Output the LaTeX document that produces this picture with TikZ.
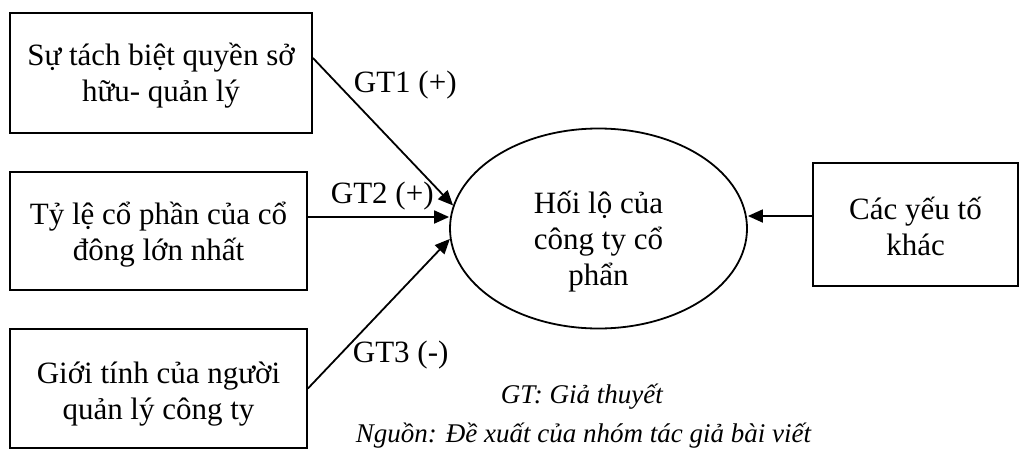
\documentclass[tikz,border=0pt]{standalone}
\usepackage{fontspec}
\setmainfont{Liberation Serif}
\usetikzlibrary{arrows.meta,shapes.geometric}
\newcommand\diafont{\fontsize{31}{36}\selectfont}
\newcommand\notefont{\fontsize{27}{31}\selectfont\itshape}
% multi-line centred text; last baseline lowered #1 below the node centre
\newcommand\ml[2]{\raisebox{-#1}[0pt][0pt]{\vbox{\lineskiplimit=-100pt\baselineskip=36pt\halign{\hfil##\hfil\cr#2\crcr}}}}
\begin{document}
\begin{tikzpicture}[x=1pt,y=-1pt,line width=1.8pt,
  box/.style={draw, rectangle, inner sep=0pt, font=\diafont},
  oval/.style={draw, ellipse, inner sep=0pt, font=\diafont,
    minimum width=297pt, minimum height=200pt},
  lbl/.style={anchor=base west, inner sep=0pt, font=\diafont},
  note/.style={anchor=base west, inner sep=0pt, font=\notefont},
  link/.style={-{Triangle[length=15pt,width=13pt]}}
]
\useasboundingbox (0,0) rectangle (1019,450);

\node[box, minimum width=302pt, minimum height=120pt] (b1) at (161,73)
  {\ml{28pt}{Sự tách biệt quyền sở\cr hữu- quản lý}};
\node[box, minimum width=297pt, minimum height=118pt] (b2) at (158.5,231)
  {\ml{29pt}{Tỷ lệ cổ phần của cổ\cr đông lớn nhất}};
\node[box, minimum width=297pt, minimum height=119pt] (b3) at (158.5,388.5)
  {\ml{30.5pt}{Giới tính của người\cr quản lý công ty}};
\node[box, minimum width=205pt, minimum height=123pt] (b4) at (915.5,224.5)
  {\ml{30.5pt}{Các yếu tố\cr khác}};
\node[oval] (e) at (598.5,228.5) {\ml{56.5pt}{Hối lộ của\cr công ty cổ\cr phẩn}};

\draw[link] ([yshift=15pt]b1.east) -- (e.171);
\draw[link] ([yshift=14pt]b2.east) -- ([yshift=14pt]b2.east -| e.west);
\draw[link] (b3.east) -- (e.184);
\draw[link] ([yshift=8.5pt]b4.west) -- ([yshift=8.5pt]b4.west -| e.east);

\node[lbl] (l1) at (353,92) {GT1 (+)};
\node[lbl] (l2) at (330,203) {GT2 (+)};
\node[lbl] (l3) at (352,362) {GT3 (-)};
\node[note] (n1) at (500,403) {GT: Giả thuyết};
\node[note] (n2) at (355,442) {Nguồn: Đề xuất của nhóm tác giả bài viết};
\end{tikzpicture}
\end{document}
